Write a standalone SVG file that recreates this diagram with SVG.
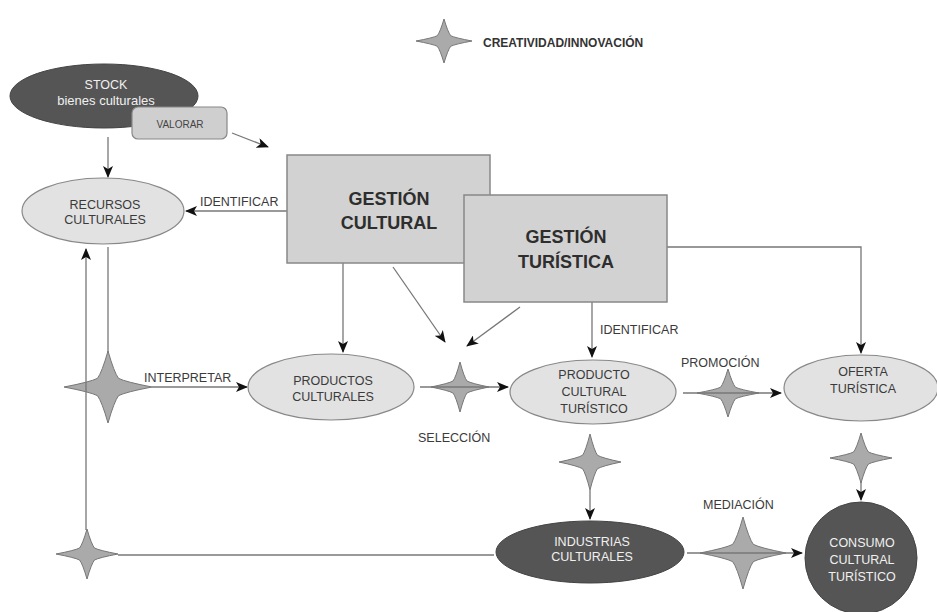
<svg xmlns="http://www.w3.org/2000/svg" xmlns:xlink="http://www.w3.org/1999/xlink" width="937" height="612" viewBox="0 0 937 612">
<style>
  text { font-family: "Liberation Sans", "DejaVu Sans", sans-serif; }
  .t { font-size: 12.5px; fill: #3a3a3a; text-anchor: middle; }
  .tw { font-size: 12.5px; fill: #f0f0f0; text-anchor: middle; }
  .lbl { font-size: 12.5px; fill: #3a3a3a; }
  .big { font-size: 18px; font-weight: bold; fill: #2e2e2e; text-anchor: middle; }
  .light { fill: #e2e2e2; stroke: #888; stroke-width: 1.2; }
  .dark { fill: #555; stroke: #444; stroke-width: 1; }
  .box { fill: #d2d2d2; stroke: #888; stroke-width: 1.5; }
  .con { fill: none; stroke: #777; stroke-width: 1.3; }
  .arr { marker-end: url(#ah); }
  .starp { fill: #aaa; stroke: #777; stroke-width: 1; vector-effect: non-scaling-stroke; }
</style>
<defs>
  <marker id="ah" viewBox="0 0 12 10" refX="11" refY="5" markerWidth="12" markerHeight="10" markerUnits="userSpaceOnUse" orient="auto">
    <path d="M0,0 L12,5 L0,10 L3,5 Z" fill="#111"/>
  </marker>
  <path id="star" class="starp" d="M0,-1 Q0.14,-0.4 0.24,-0.24 Q0.4,-0.14 1,0 Q0.4,0.14 0.24,0.24 Q0.14,0.4 0,1 Q-0.14,0.4 -0.24,0.24 Q-0.4,0.14 -1,0 Q-0.4,-0.14 -0.24,-0.24 Q-0.14,-0.4 0,-1 Z"/>
</defs>

<g id="stars">
  <use xlink:href="#star" transform="translate(444,41) scale(28,22)"/>
  <use xlink:href="#star" transform="translate(108,387) scale(44,36)"/>
  <use xlink:href="#star" transform="translate(460,387) scale(29,25)"/>
  <use xlink:href="#star" transform="translate(728,393) scale(31,24)"/>
  <use xlink:href="#star" transform="translate(590,462) scale(31,28)"/>
  <use xlink:href="#star" transform="translate(861,458) scale(31,25)"/>
  <use xlink:href="#star" transform="translate(743,553) scale(43,36)"/>
  <use xlink:href="#star" transform="translate(87,554) scale(31,25)"/>
</g>

<g id="connectors">
  <line class="con arr" x1="232" y1="133" x2="268" y2="147"/>
  <line class="con arr" x1="108" y1="137" x2="108" y2="177"/>
  <line class="con arr" x1="287" y1="211" x2="186" y2="211"/>
  <line class="con" x1="108" y1="247" x2="108" y2="352"/>
  <line class="con arr" x1="152" y1="387" x2="247" y2="387"/>
  <line class="con arr" x1="343" y1="263" x2="343" y2="352"/>
  <line class="con arr" x1="393" y1="267" x2="445" y2="342"/>
  <line class="con arr" x1="520" y1="307" x2="467" y2="346"/>
  <line class="con arr" x1="420" y1="387" x2="508" y2="387"/>
  <line class="con arr" x1="592" y1="302" x2="592" y2="357"/>
  <line class="con arr" x1="683" y1="393" x2="781" y2="393"/>
  <path class="con arr" d="M667,247 H861 V353"/>
  <line class="con arr" x1="590" y1="490" x2="590" y2="519"/>
  <line class="con arr" x1="861" y1="482" x2="861" y2="500"/>
  <line class="con arr" x1="687" y1="553" x2="802" y2="553"/>
  <line class="con" x1="494" y1="555" x2="118" y2="555"/>
  <line class="con arr" x1="86" y1="530" x2="86" y2="249"/>
</g>

<g id="labels">
  <text class="lbl" x="200" y="206">IDENTIFICAR</text>
  <text class="lbl" x="144" y="382">INTERPRETAR</text>
  <text class="lbl" x="600" y="334">IDENTIFICAR</text>
  <text class="lbl" x="681" y="367">PROMOCIÓN</text>
  <text class="lbl" x="418" y="442">SELECCIÓN</text>
  <text class="lbl" x="703" y="509">MEDIACIÓN</text>
  <text x="483" y="47" style="font-size:12px;font-weight:bold;fill:#333">CREATIVIDAD/INNOVACIÓN</text>
</g>

<g id="stock">
  <ellipse class="dark" cx="104" cy="96" rx="94" ry="32"/>
  <text class="tw" x="106" y="89">STOCK</text>
  <text class="tw" x="106" y="105" style="font-size:13px">bienes culturales</text>
</g>
<g id="valorar">
  <rect class="light" x="132" y="107" width="95" height="32" rx="6" style="fill:#cfcfcf"/>
  <text x="180" y="128" style="font-size:10px;fill:#444;text-anchor:middle">VALORAR</text>
</g>
<g id="recursos">
  <ellipse class="light" cx="103" cy="211" rx="81" ry="33"/>
  <text class="t" x="105" y="209">RECURSOS</text>
  <text class="t" x="105" y="224">CULTURALES</text>
</g>
<g id="gestion-cultural">
  <rect class="box" x="287" y="155" width="203" height="108"/>
  <text class="big" x="389" y="205">GESTIÓN</text>
  <text class="big" x="389" y="229">CULTURAL</text>
</g>
<g id="gestion-turistica">
  <rect class="box" x="464" y="195" width="203" height="107"/>
  <text class="big" x="566" y="243">GESTIÓN</text>
  <text class="big" x="566" y="268">TURÍSTICA</text>
</g>
<g id="productos-culturales">
  <ellipse class="light" cx="331" cy="387" rx="83" ry="33"/>
  <text class="t" x="333" y="385">PRODUCTOS</text>
  <text class="t" x="333" y="401">CULTURALES</text>
</g>
<g id="producto-cultural-turistico">
  <ellipse class="light" cx="593" cy="392" rx="83" ry="32"/>
  <text class="t" x="594" y="379">PRODUCTO</text>
  <text class="t" x="594" y="396">CULTURAL</text>
  <text class="t" x="594" y="413">TURÍSTICO</text>
</g>
<g id="oferta-turistica">
  <ellipse class="light" cx="861" cy="388" rx="77" ry="33"/>
  <text class="t" x="863" y="376">OFERTA</text>
  <text class="t" x="863" y="393">TURÍSTICA</text>
</g>
<g id="industrias-culturales">
  <ellipse class="dark" cx="590" cy="552" rx="94" ry="31"/>
  <text class="tw" x="592" y="546">INDUSTRIAS</text>
  <text class="tw" x="592" y="561">CULTURALES</text>
</g>
<g id="consumo">
  <circle class="dark" cx="861" cy="558" r="56"/>
  <text class="tw" x="862" y="547">CONSUMO</text>
  <text class="tw" x="862" y="564">CULTURAL</text>
  <text class="tw" x="862" y="581">TURÍSTICO</text>
</g>
</svg>
